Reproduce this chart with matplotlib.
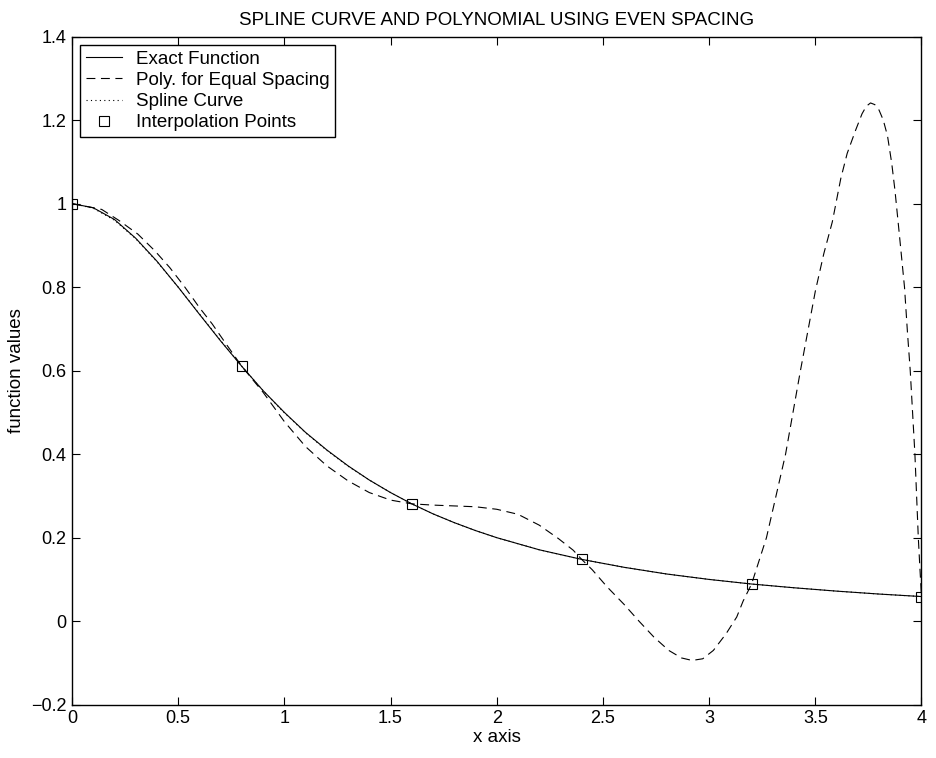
import numpy as np
import matplotlib
matplotlib.use("Agg")
import matplotlib.pyplot as plt

plt.rcParams['font.family'] = ['Liberation Sans', 'DejaVu Sans']

# exact function
x_exact = [0.0, 0.1, 0.2, 0.3, 0.4, 0.5, 0.6, 0.7, 0.8, 0.9, 1.0, 1.1, 1.2, 1.3, 1.4,
           1.5, 1.6, 1.7, 1.8, 1.9, 2.0, 2.2, 2.4, 2.6, 2.8, 3.0, 3.2, 3.4, 3.6, 3.8, 4.0]
y_exact = [1.0, 0.990, 0.962, 0.917, 0.862, 0.800, 0.735, 0.671, 0.610, 0.552, 0.500,
           0.452, 0.410, 0.372, 0.338, 0.308, 0.281, 0.257, 0.236, 0.217, 0.200, 0.171,
           0.148, 0.129, 0.113, 0.100, 0.089, 0.080, 0.072, 0.065, 0.059]

# spline curve (sits on top of the exact function)
x_spline = x_exact
y_spline = [1.0, 0.989, 0.960, 0.916, 0.861, 0.800, 0.736, 0.672, 0.610, 0.552, 0.499,
            0.451, 0.409, 0.371, 0.338, 0.308, 0.281, 0.257, 0.236, 0.217, 0.200, 0.171,
            0.148, 0.129, 0.113, 0.100, 0.089, 0.080, 0.072, 0.065, 0.059]

# polynomial for equal spacing
x_poly = [0.0, 0.14, 0.22, 0.31, 0.39, 0.46, 0.53, 0.60, 0.66, 0.72, 0.80, 0.90, 1.00,
          1.10, 1.20, 1.30, 1.40, 1.50, 1.60, 1.70, 1.80, 1.90, 2.00, 2.10, 2.20,
          2.29, 2.36, 2.40, 2.45, 2.52, 2.60, 2.67, 2.74, 2.81, 2.87, 2.92, 2.97, 3.02,
          3.08, 3.13, 3.16, 3.20, 3.27, 3.36, 3.43, 3.50, 3.54, 3.58, 3.62, 3.65, 3.69,
          3.72, 3.74, 3.76, 3.78, 3.80, 3.82, 3.84, 3.86, 3.875, 3.895, 3.92, 3.934,
          3.947, 3.969, 3.985, 3.992, 4.0]
y_poly = [1.0, 0.986, 0.960, 0.927, 0.887, 0.847, 0.801, 0.751, 0.712, 0.668, 0.610,
          0.548, 0.478, 0.418, 0.372, 0.336, 0.308, 0.290, 0.281, 0.278, 0.276, 0.274,
          0.268, 0.256, 0.230, 0.198, 0.170, 0.148, 0.123, 0.082, 0.040, 0.000,
          -0.038, -0.070, -0.088, -0.094, -0.090, -0.070, -0.030, 0.010, 0.048, 0.089,
          0.200, 0.400, 0.600, 0.790, 0.880, 0.956, 1.060, 1.120, 1.176, 1.215, 1.233,
          1.241, 1.237, 1.224, 1.200, 1.162, 1.096, 1.032, 0.930, 0.800, 0.691, 0.600,
          0.400, 0.200, 0.132, 0.059]

# interpolation points
x_pts = [0.0, 0.8, 1.6, 2.4, 3.2, 4.0]
y_pts = [1.0, 0.610, 0.281, 0.148, 0.089, 0.059]

xticks = [0, 0.5, 1, 1.5, 2, 2.5, 3, 3.5, 4]
xlabels = ['0', '0.5', '1', '1.5', '2', '2.5', '3', '3.5', '4']
yticks = [-0.2, 0, 0.2, 0.4, 0.6, 0.8, 1.0, 1.2, 1.4]
ylabels = ['\u22120.2', '0', '0.2', '0.4', '0.6', '0.8', '1', '1.2', '1.4']

fs = 13.5

fig = plt.figure(figsize=(9.36, 7.58), dpi=100)
ax = fig.add_axes([0.0769, 0.0703, 0.9076, 0.8815])

ax.plot(x_exact, y_exact, color='black', lw=0.8, label='Exact Function')
ax.plot(x_poly, y_poly, color='black', lw=0.8, linestyle=(0, (8, 5)),
        label='Poly. for Equal Spacing')
ax.plot(x_spline, y_spline, color='black', lw=0.8, linestyle=(0, (1, 3)),
        label='Spline Curve')
ax.plot(x_pts, y_pts, linestyle='none', marker='s', ms=7, mfc='none', mec='black',
        mew=0.8, label='Interpolation Points')

ax.set_xlim(0, 4)
ax.set_ylim(-0.2, 1.4)
ax.set_xticks(xticks)
ax.set_xticklabels(xlabels)
ax.set_yticks(yticks)
ax.set_yticklabels(ylabels)
ax.tick_params(direction='in', length=6, width=0.8, top=True, right=True,
               labelsize=13, pad=4)
for s in ax.spines.values():
    s.set_linewidth(1.0)

ax.set_title('SPLINE CURVE AND POLYNOMIAL USING EVEN SPACING', fontsize=fs, pad=8)
ax.set_xlabel('x axis', fontsize=fs, labelpad=1)
ax.set_ylabel('function values', fontsize=fs, labelpad=4)

leg = ax.legend(loc='upper left', fontsize=fs, frameon=True, fancybox=False,
                framealpha=1, edgecolor='black', handlelength=1.9, borderpad=0.3,
                labelspacing=0.22, handletextpad=0.75, borderaxespad=0.45)
leg.get_frame().set_linewidth(1.0)

fig.savefig('out.png', dpi=100)
